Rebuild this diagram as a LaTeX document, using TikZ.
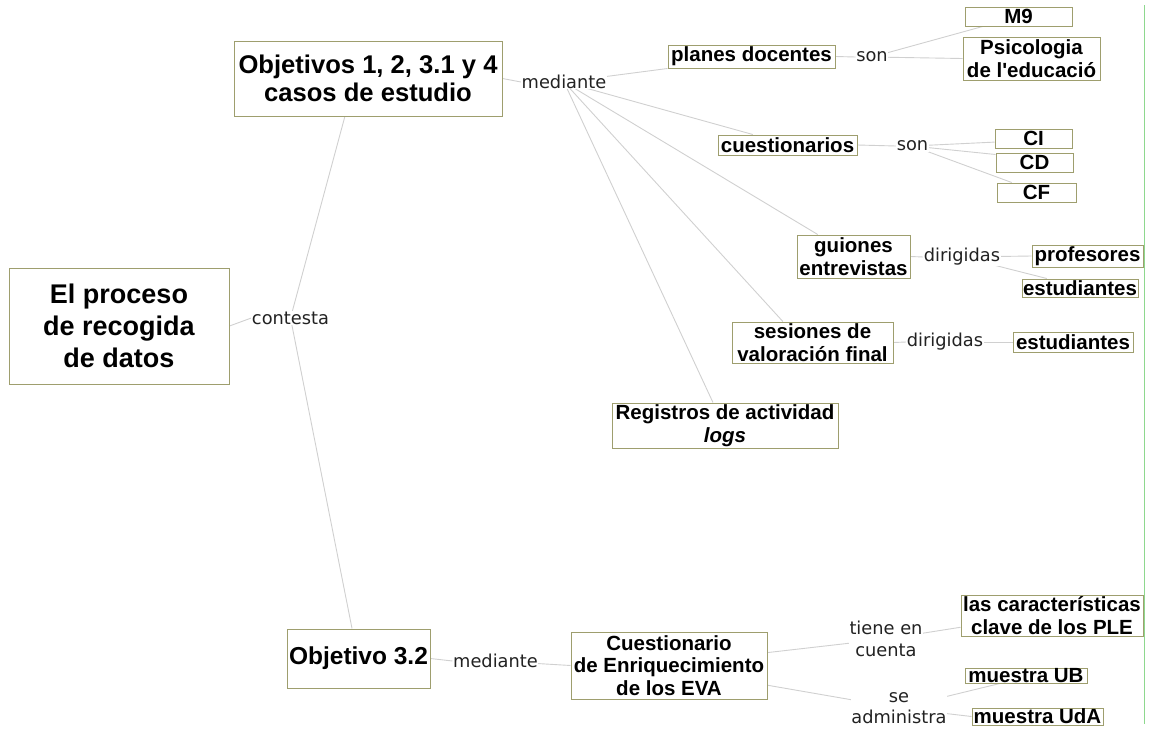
\documentclass[tikz,border=0pt]{standalone}
\usepackage{fontspec}
\setmainfont{Liberation Sans}
\newfontfamily\labfont{DejaVu Sans}
\usetikzlibrary{calc,backgrounds}
\definecolor{boxc}{HTML}{9E9E6E}
\definecolor{linec}{HTML}{D0D0D0}
\definecolor{greenl}{HTML}{8ED88E}
\definecolor{labc}{HTML}{222222}
\tikzset{
  box/.style={draw=boxc, fill=white, line width=1pt, align=center, inner sep=0pt,
    font=\bfseries\fontsize{20.5}{22.5}\selectfont},
  bigbox/.style={box, font=\bfseries\fontsize{24.5}{28}\selectfont},
  objbox/.style={box, font=\bfseries\fontsize{25.6}{28}\selectfont},
  rootbox/.style={box, font=\bfseries\fontsize{27}{32}\selectfont},
  conn/.style={draw=linec, line width=0.9pt},
  lbl/.style={fill=white, inner sep=0.5pt, text=labc, align=center,
    font=\labfont\fontsize{17.8}{21.5}\selectfont},
  sep/.style={draw=greenl, line width=1pt}
}
\begin{document}
\begin{tikzpicture}[x=1pt,y=-1pt]
\useasboundingbox (0,0) rectangle (1149,731);
% boxes
\node[rootbox, minimum width=220, minimum height=116] (root) at (119,326) {El proceso\\de recogida\\de datos};
\node[objbox, minimum width=268, minimum height=75] (obj1) at (368,78.5) {Objetivos 1, 2, 3.1 y 4\\casos de estudio};
\node[box, minimum width=167, minimum height=23] (planes) at (751.5,56.5) {planes docentes};
\node[box, minimum width=107, minimum height=19] (m9) at (1018.5,16.5) {M9};
\node[box, minimum width=137, minimum height=43] (psico) at (1031.5,58.5) {Psicologia\\de l\textquotesingle educació};
\node[box, minimum width=139, minimum height=20] (cuest) at (787.5,145) {cuestionarios};
\node[box, minimum width=77, minimum height=19] (ci) at (1033.5,138.5) {CI};
\node[box, minimum width=77, minimum height=19] (cd) at (1034.5,162.5) {CD};
\node[box, minimum width=79, minimum height=19] (cf) at (1036.5,192.5) {CF};
\node[box, minimum width=113, minimum height=43] (guiones) at (853.5,256.5) {guiones\\entrevistas};
\node[box, minimum width=111, minimum height=22] (prof) at (1087.5,256) {profesores};
\node[box, minimum width=116, minimum height=18] (est1) at (1080,288) {estudiantes};
\node[box, minimum width=161, minimum height=41] (ses) at (812.5,342.5) {sesiones de\\valoración final};
\node[box, minimum width=120, minimum height=20] (est2) at (1073,342) {estudiantes};
\node[box, minimum width=226, minimum height=45] (reg) at (725,425.5) {Registros de actividad\\\textit{logs}};
\node[bigbox, minimum width=143, minimum height=59] (obj32) at (358.5,658.5) {Objetivo 3.2};
\node[box, minimum width=196, minimum height=67] (eva) at (669,665.5) {Cuestionario\\de Enriquecimiento\\de los EVA};
\node[box, minimum width=182, minimum height=41] (car) at (1052,615.5) {las características\\clave de los PLE};
\node[box, minimum width=122, minimum height=15] (ub) at (1026,675.5) {muestra UB};
\node[box, minimum width=131, minimum height=17] (uda) at (1037.5,716.5) {muestra UdA};
% labels
\node[lbl] (contesta) at (290.5,318) {contesta};
\node[lbl] (med1) at (564,82) {mediante};
\node[lbl] (son1) at (872,57) {son};
\node[lbl] (son2) at (912.5,146) {son};
\node[lbl] (dir1) at (962,257) {dirigidas};
\node[lbl] (dir2) at (945,342) {dirigidas};
\node[lbl] (med2) at (495.5,661) {mediante};
\node[lbl] (tiene) at (886,639) {tiene en\\cuenta};
\node[lbl] (seadm) at (899,708) {se\\administra};
% separator
\coordinate (g1) at (1144,5);
\coordinate (g2) at (1144,724);
\draw[sep] (g1) -- (g2);
% connectors
\begin{scope}[on background layer]
\draw[conn] (root.east) -- (contesta.west);
\draw[conn] (contesta.center) -- ($(obj1.south west)!0.414!(obj1.south east)$);
\draw[conn] (contesta.center) -- ($(obj32.north west)!0.455!(obj32.north east)$);
\draw[conn] (obj1.east) -- (med1.west);
\draw[conn] (med1.center) -- (planes.south west);
\draw[conn] (med1.center) -- ($(cuest.north west)!0.252!(cuest.north east)$);
\draw[conn] (med1.center) -- ($(guiones.north west)!0.186!(guiones.north east)$);
\draw[conn] (med1.center) -- ($(ses.north west)!0.317!(ses.north east)$);
\draw[conn] (med1.center) -- ($(reg.north west)!0.447!(reg.north east)$);
\draw[conn] (planes.east) -- (son1.west);
\draw[conn] (son1.center) -- ($(m9.south west)!0.168!(m9.south east)$);
\draw[conn] (son1.center) -- (psico.west);
\draw[conn] (cuest.east) -- (son2.west);
\draw[conn] (son2.center) -- ($(ci.north west)!0.68!(ci.south west)$);
\draw[conn] (son2.center) -- ($(cd.north west)!0.1!(cd.south west)$);
\draw[conn] (son2.center) -- ($(cf.north west)!0.19!(cf.north east)$);
\draw[conn] (guiones.east) -- (dir1.west);
\draw[conn] (dir1.center) -- (prof.west);
\draw[conn] (dir1.center) -- ($(est1.north west)!0.216!(est1.north east)$);
\draw[conn] (ses.east) -- (dir2.west);
\draw[conn] (dir2.center) -- (est2.west);
\draw[conn] (obj32.east) -- (med2.west);
\draw[conn] (med2.center) -- (eva.west);
\draw[conn] ($(eva.north east)!0.31!(eva.south east)$) -- (tiene.center);
\draw[conn] (tiene.center) -- ($(car.north west)!0.78!(car.south west)$);
\draw[conn] ($(eva.north east)!0.79!(eva.south east)$) -- (seadm.center);
\draw[conn] (seadm.center) -- ($(ub.south west)!0.287!(ub.south east)$);
\draw[conn] (seadm.center) -- (uda.west);
\end{scope}
\end{tikzpicture}
\end{document}
